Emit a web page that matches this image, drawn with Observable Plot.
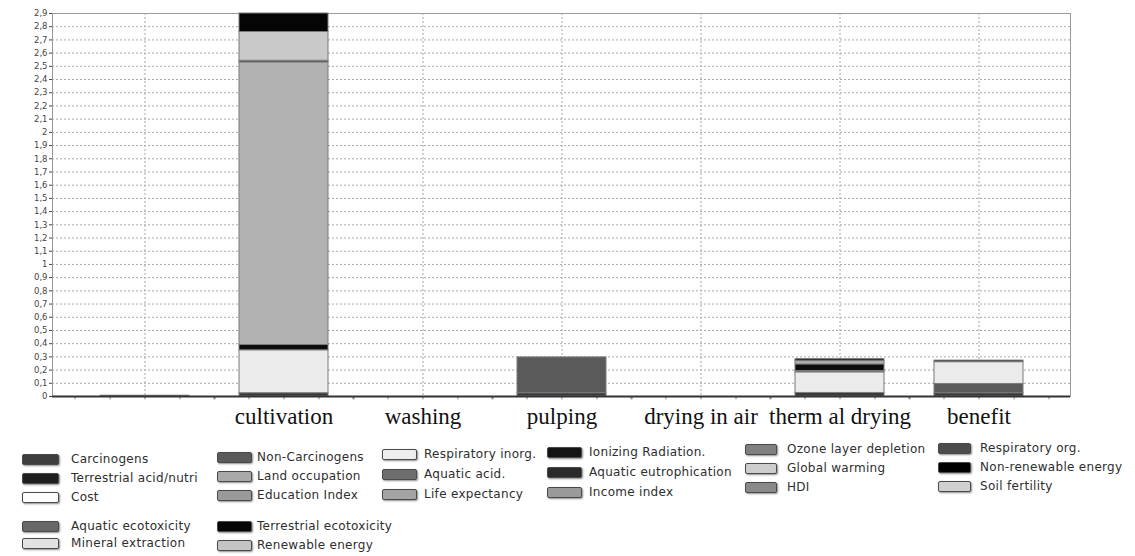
<!DOCTYPE html>
<html>
<head>
<meta charset="utf-8">
<script src="https://cdn.jsdelivr.net/npm/d3@7"></script>
<script src="https://cdn.jsdelivr.net/npm/@observablehq/plot@0.6"></script>
<style>
  html, body { margin: 0; padding: 0; background: #fff; }
  #wrap { position: relative; width: 1135px; height: 556px; overflow: hidden; }
  #legend { position: absolute; left: 0; top: 0; width: 1135px; height: 556px; pointer-events: none; }
  .sw { position: absolute; height: 9px; border: 1.5px solid #4a4a4a; border-radius: 2px; box-shadow: 1px 1px 2px rgba(0,0,0,0.45); box-sizing: content-box; }
  .lt { position: absolute; font-family: "DejaVu Sans", sans-serif; font-size: 12px; color: #2e2e2e; white-space: nowrap; overflow: hidden; line-height: 15px; letter-spacing: 0.3px; }
</style>
</head>
<body>
<div id="wrap"><div id="chart"></div><div id="legend"></div></div>
<script>
// ---- data ----
const categories = ["", "cultivation", "washing", "pulping", "drying in air", "therm al drying", "benefit"];

// stacked series (bottom to top)
const stackSeries = ["Carcinogens", "Non-Carcinogens", "Respiratory inorg.", "Aquatic acid.", "Terrestrial acid/nutri", "Land occupation", "Aquatic eutrophication", "Global warming", "Non-renewable energy"];
const carcinogens          = [0.006, 0.025, 0, 0.025, 0, 0.027, 0.025];
const nonCarcinogens       = [0, 0, 0, 0.271, 0, 0, 0.07];
const respiratoryInorg     = [0, 0.325, 0, 0, 0, 0.156, 0.165];
const aquaticAcid          = [0, 0, 0, 0, 0, 0.01, 0];
const terrestrialAcid      = [0, 0.04, 0, 0, 0, 0.05, 0];
const landOccupation       = [0, 2.14, 0, 0, 0, 0.025, 0];
const aquaticEutrophication= [0, 0.012, 0, 0, 0, 0.015, 0.012];
const globalWarming        = [0, 0.218, 0, 0, 0, 0, 0];
const nonRenewableEnergy   = [0, 0.14, 0, 0, 0, 0, 0];
const stackValues = [carcinogens, nonCarcinogens, respiratoryInorg, aquaticAcid, terrestrialAcid, landOccupation, aquaticEutrophication, globalWarming, nonRenewableEnergy];
const stackColors = ["#3a3a3a", "#5a5a5a", "#ebebeb", "#6e6e6e", "#0d0d0d", "#b2b2b2", "#2a2a2a", "#c9c9c9", "#050505"];

// legend entries (grouped as in the picture)
const legendGroups = [
  ["Carcinogens", "Terrestrial acid/nutri", "Cost"],
  ["Non-Carcinogens", "Land occupation", "Education Index"],
  ["Respiratory inorg.", "Aquatic acid.", "Life expectancy"],
  ["Ionizing Radiation.", "Aquatic eutrophication", "Income index"],
  ["Ozone layer depletion", "Global warming", "HDI"],
  ["Respiratory org.", "Non-renewable energy", "Soil fertility"],
  ["Aquatic ecotoxicity", "Mineral extraction"],
  ["Terrestrial ecotoxicity", "Renewable energy"]
];
const legendColors = {
  "Carcinogens": "#3e3e3e", "Terrestrial acid/nutri": "#1e1e1e", "Cost": "#ffffff",
  "Non-Carcinogens": "#5a5a5a", "Land occupation": "#a9a9a9", "Education Index": "#9a9a9a",
  "Respiratory inorg.": "#eeeeee", "Aquatic acid.": "#6e6e6e", "Life expectancy": "#a4a4a4",
  "Ionizing Radiation.": "#141414", "Aquatic eutrophication": "#2a2a2a", "Income index": "#9a9a9a",
  "Ozone layer depletion": "#808080", "Global warming": "#cdcdcd", "HDI": "#8a8a8a",
  "Respiratory org.": "#4c4c4c", "Non-renewable energy": "#000000", "Soil fertility": "#d0d0d0",
  "Aquatic ecotoxicity": "#686868", "Mineral extraction": "#e2e2e2",
  "Terrestrial ecotoxicity": "#050505", "Renewable energy": "#c4c4c4"
};

const yTicks = d3.range(0, 30).map(i => i / 10);

// ---- table ----
const table = [];
stackSeries.forEach((s, si) => {
  categories.forEach((c, ci) => {
    const v = stackValues[si][ci];
    if (v > 0) table.push({category: c, series: s, value: v});
  });
});

const quarterOffsets = [-70, -35, 0, 35, 70];

const chart = Plot.plot({
  width: 1135,
  height: 440,
  marginLeft: 52,
  marginRight: 65,
  marginTop: 13,
  marginBottom: 44,
  style: {fontFamily: "DejaVu Sans, sans-serif", fontSize: "8.5px", color: "#444", background: "#fff"},
  x: {domain: categories, paddingInner: 0.36, paddingOuter: 0.316, axis: null},
  y: {domain: [0, 2.9], ticks: yTicks, tickFormat: d => String(d).replace(".", ","), tickSize: 3, tickPadding: 2, label: null, line: true},
  color: {domain: stackSeries, range: stackColors},
  marks: [
    Plot.ruleY(yTicks.slice(1), {stroke: "#a8a8a8", strokeDasharray: "2,2", strokeWidth: 1}),
    Plot.ruleX(categories, {x: d => d, stroke: "#a8a8a8", strokeDasharray: "2,2", strokeWidth: 1}),
    Plot.frame({stroke: "#9a9a9a"}),
    Plot.barY(table, Plot.stackY({x: "category", y: "value", fill: "series", stroke: "#7a7a7a", strokeWidth: 1})),
    ...quarterOffsets.map(dx => Plot.ruleX(categories, {x: d => d, y1: 0, y2: -0.025, dx, stroke: "#777"})),
    Plot.ruleY([0], {stroke: "#333", strokeWidth: 2}),
    Plot.text(categories, {x: d => d, y: 0, text: d => d, dy: 20, fontSize: 23, fontFamily: "Liberation Serif, serif", fill: "#111", letterSpacing: 0.2})
  ]
});
document.getElementById("chart").appendChild(chart);

// ---- legend layout ----
const groupLayout = [
  {sx: 22, sw: 35, tx: 71, top: 460, gap: 19, clip: 140},
  {sx: 217, sw: 33, tx: 257, top: 458, gap: 19, clip: 120},
  {sx: 382, sw: 33, tx: 424, top: 455, gap: 20, clip: 122},
  {sx: 547, sw: 33, tx: 589, top: 453, gap: 20, clip: 150},
  {sx: 745, sw: 30, tx: 787, top: 450, gap: 19, clip: 148},
  {sx: 938, sw: 31, tx: 980, top: 449, gap: 19, clip: 155},
  {sx: 22, sw: 35, tx: 71, top: 527, gap: 17, clip: 140},
  {sx: 217, sw: 33, tx: 257, top: 527, gap: 19, clip: 160}
];
const legend = document.getElementById("legend");
legendGroups.forEach((items, gi) => {
  const L = groupLayout[gi];
  items.forEach((name, ii) => {
    const cy = L.top + ii * L.gap;
    const sw = document.createElement("div");
    sw.className = "sw";
    sw.style.left = L.sx + "px";
    sw.style.top = (cy - 6) + "px";
    sw.style.width = L.sw + "px";
    sw.style.background = legendColors[name];
    legend.appendChild(sw);
    const t = document.createElement("div");
    t.className = "lt";
    t.style.left = L.tx + "px";
    t.style.top = (cy - 8) + "px";
    t.style.width = L.clip + "px";
    t.textContent = name;
    legend.appendChild(t);
  });
});
</script>
</body>
</html>
